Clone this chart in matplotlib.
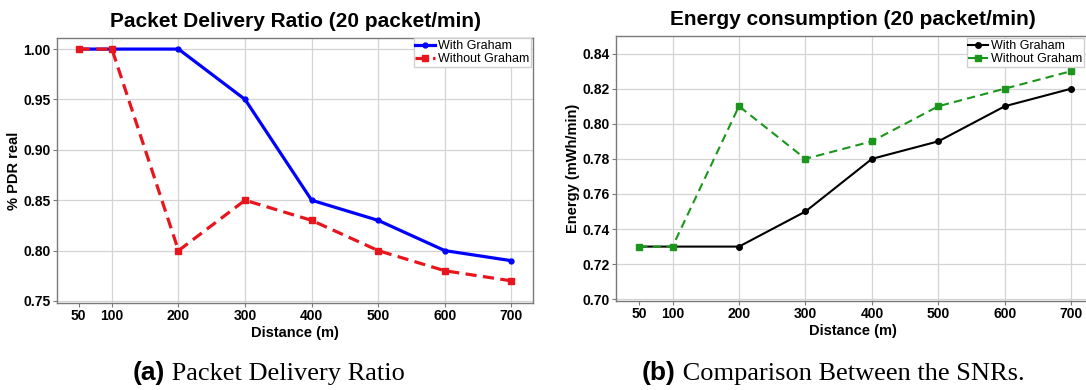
import matplotlib
matplotlib.use("Agg")
import matplotlib.pyplot as plt

# data
distance = [50, 100, 200, 300, 400, 500, 600, 700]
pdr_with = [1.00, 1.00, 1.00, 0.95, 0.85, 0.83, 0.80, 0.79]
pdr_without = [1.00, 1.00, 0.80, 0.85, 0.83, 0.80, 0.78, 0.77]
energy_with = [0.73, 0.73, 0.73, 0.75, 0.78, 0.79, 0.81, 0.82]
energy_without = [0.73, 0.73, 0.81, 0.78, 0.79, 0.81, 0.82, 0.83]
pdr_ticks = [0.75, 0.80, 0.85, 0.90, 0.95, 1.00]
energy_ticks = [0.70, 0.72, 0.74, 0.76, 0.78, 0.80, 0.82, 0.84]

W, H = 1086, 390
SANS = ['Liberation Sans', 'DejaVu Sans']
plt.rcParams['font.family'] = SANS

fig = plt.figure(figsize=(W / 100, H / 100), dpi=100)

def px_box(x0, y0, x1, y1):
    # pixel box (top-left origin) -> figure fraction
    return [x0 / W, 1 - y1 / H, (x1 - x0) / W, (y1 - y0) / H]

ax1 = fig.add_axes(px_box(57, 38, 533, 303))
ax2 = fig.add_axes(px_box(616, 36, 1090, 301))


def style_axes(ax, title, ylabel, yticks, ylim, xlim):
    ax.set_xlim(*xlim)
    ax.set_ylim(*ylim)
    ax.set_xticks(distance)
    ax.set_yticks(yticks)
    ax.set_yticklabels([f"{v:.2f}" for v in yticks])
    ax.grid(True, color='#d4d4d4', linewidth=0.9)
    ax.set_axisbelow(True)
    # no vertical gridline at 50 in the reference
    ax.get_xgridlines()[0].set_visible(False)
    for s in ax.spines.values():
        s.set_color('#7a7a7a')
        s.set_linewidth(1.0)
    ax.tick_params(axis='both', labelsize=10, color='#7a7a7a', length=3, pad=1.5)
    for lab in ax.get_xticklabels() + ax.get_yticklabels():
        lab.set_fontweight('bold')
    ax.set_title(title, fontsize=15, fontweight='bold', pad=8)
    ax.set_xlabel('Distance (m)', fontsize=10.5, fontweight='bold', labelpad=2)
    ax.set_ylabel(ylabel, fontsize=10.5, fontweight='bold', labelpad=2)


ax1.plot(distance, pdr_with, color='blue', lw=2.3, marker='o', ms=3.5, label='With Graham')
ax1.plot(distance, pdr_without, color='#e8161c', lw=2.3, ls='--', dashes=(3.5, 2),
         marker='s', ms=4.5, label='Without Graham')
style_axes(ax1, 'Packet Delivery Ratio (20 packet/min)', '% PDR real',
           pdr_ticks, (0.748, 1.011), (17.5, 732.5))

ax2.plot(distance, energy_with, color='black', lw=1.5, marker='o', ms=4, label='With Graham')
ax2.plot(distance, energy_without, color='#1c951c', lw=1.5, ls='--', dashes=(4, 2.5),
         marker='s', ms=4.5, label='Without Graham')
style_axes(ax2, 'Energy consumption (20 packet/min)', 'Energy (mWh/min)',
           energy_ticks, (0.699, 0.850), (15, 728))

for ax, corner in ((ax1, (531, 38)), (ax2, (1084, 38))):
    ax.legend(loc='upper right', bbox_to_anchor=(corner[0] / W, 1 - corner[1] / H),
              bbox_transform=fig.transFigure, borderaxespad=0, fontsize=9,
              handlelength=1.6, handletextpad=0.2, labelspacing=0.1, borderpad=0.15,
              framealpha=1, edgecolor='#d0d0d0', fancybox=False)

# captions: bold sans label + serif text
renderer = fig.canvas.get_renderer()
for cx, tag, txt in ((269, '(a)', ' Packet Delivery Ratio'),
                     (833, '(b)', ' Comparison Between the SNRs.')):
    t1 = fig.text(0, 0, tag, fontsize=19, fontweight='bold', family=SANS)
    t2 = fig.text(0, 0, txt, fontsize=19, family=['Liberation Serif', 'DejaVu Serif'])
    w1 = t1.get_window_extent(renderer).width
    w2 = t2.get_window_extent(renderer).width
    x0 = cx - (w1 + w2) / 2
    t1.set_position((x0 / W, 1 - 380 / H))
    t2.set_position(((x0 + w1) / W, 1 - 380 / H))
    t1.set_va('baseline')
    t2.set_va('baseline')

fig.savefig('out.png', dpi=100)
